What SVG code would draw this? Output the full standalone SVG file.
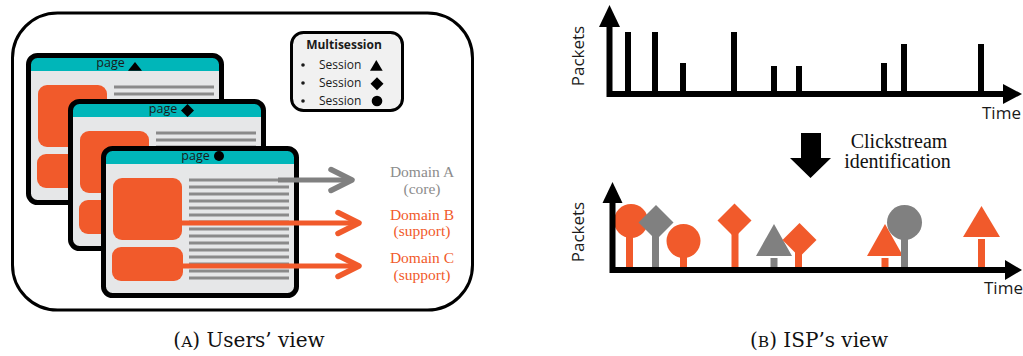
<svg xmlns="http://www.w3.org/2000/svg" xmlns:xlink="http://www.w3.org/1999/xlink" width="1023" height="356" viewBox="0 0 1023 356">
<style>
.sans{font-family:"Open Sans","Noto Sans","Liberation Sans",sans-serif;fill:#1a1a1a}
.serif{font-family:"Liberation Serif","DejaVu Serif",serif}
.or{fill:#F15A2B}
.gr{fill:#808080}
.ax{stroke:#000;stroke-width:6;fill:none}
.bar{fill:#000}
.ln{stroke:#8a8a8a;stroke-width:3}
.cap{font-family:"DejaVu Serif","Liberation Serif",serif;font-size:20px;fill:#111}
</style>
<defs>
<g id="pageBody">
<rect x="2.5" y="2.5" width="193" height="147" rx="9" fill="#E6E7E8"/>
<rect x="2.5" y="2.5" width="193" height="24" rx="9" fill="#00B6B9"/>
<rect x="2.5" y="18" width="193" height="10" fill="#E6E7E8"/>
<rect x="12" y="32" width="69" height="62" rx="9" class="or"/>
<rect x="11" y="101" width="71" height="34" rx="9" class="or"/>
<g class="ln">
<line x1="88" y1="34" x2="188" y2="34"/><line x1="88" y1="41" x2="188" y2="41"/><line x1="88" y1="48" x2="188" y2="48"/><line x1="88" y1="55" x2="188" y2="55"/><line x1="88" y1="62" x2="188" y2="62"/><line x1="88" y1="69" x2="188" y2="69"/><line x1="88" y1="76" x2="188" y2="76"/><line x1="88" y1="83" x2="188" y2="83"/><line x1="88" y1="90" x2="188" y2="90"/><line x1="88" y1="97" x2="188" y2="97"/><line x1="88" y1="104" x2="188" y2="104"/><line x1="88" y1="111" x2="188" y2="111"/><line x1="88" y1="118" x2="188" y2="118"/><line x1="88" y1="125" x2="188" y2="125"/><line x1="88" y1="132" x2="188" y2="132"/>
</g>
<rect x="2.5" y="2.5" width="193" height="147" rx="9" fill="none" stroke="#000" stroke-width="5"/>
</g>
<marker id="chevG" markerUnits="userSpaceOnUse" markerWidth="30" markerHeight="30" refX="25" refY="15" orient="auto">
<path d="M4,4.5 L25,15 L4,25.5" fill="none" stroke="#808080" stroke-width="5.5" stroke-linecap="round" stroke-linejoin="round"/>
</marker>
<marker id="chevO" markerUnits="userSpaceOnUse" markerWidth="30" markerHeight="30" refX="25" refY="15" orient="auto">
<path d="M4,4.5 L25,15 L4,25.5" fill="none" stroke="#F15A2B" stroke-width="5.5" stroke-linecap="round" stroke-linejoin="round"/>
</marker>
</defs>

<g id="panelA-frame">
<rect x="12.5" y="13" width="460" height="297" rx="45" fill="#fff" stroke="#000" stroke-width="3"/>
</g>

<g id="page1">
<use xlink:href="#pageBody" href="#pageBody" transform="translate(26,53)"/>
<text class="sans" x="110.5" y="66.5" font-size="12.5" text-anchor="middle">page</text>
<polygon points="128,70.7 135,62 142,70.7" fill="#000"/>
</g>
<g id="page2">
<use xlink:href="#pageBody" href="#pageBody" transform="translate(68,99)"/>
<text class="sans" x="163" y="113" font-size="12.5" text-anchor="middle">page</text>
<polygon points="181,110.5 187.5,104 194,110.5 187.5,117" fill="#000"/>
</g>
<g id="page3">
<use xlink:href="#pageBody" href="#pageBody" transform="translate(101,146)"/>
<text class="sans" x="195.5" y="160" font-size="12.5" text-anchor="middle">page</text>
<circle cx="219" cy="156" r="5" fill="#000"/>
</g>

<g id="multisession">
<rect x="291.5" y="32.5" width="111" height="78" rx="12" fill="#F1F1F1" stroke="#000" stroke-width="3"/>
<text class="sans" x="344" y="49" font-size="12" font-weight="bold" text-anchor="middle">Multisession</text>
<circle cx="303" cy="65" r="1.8" fill="#1a1a1a"/>
<circle cx="303" cy="83" r="1.8" fill="#1a1a1a"/>
<circle cx="303" cy="101" r="1.8" fill="#1a1a1a"/>
<text class="sans" x="319" y="68.5" font-size="12">Session</text>
<text class="sans" x="319" y="86.7" font-size="12">Session</text>
<text class="sans" x="319" y="105" font-size="12">Session</text>
<polygon points="370,70.7 376.3,60 382.7,70.7" fill="#000"/>
<polygon points="370.5,83.7 377,77.2 383.5,83.7 377,90.2" fill="#000"/>
<circle cx="377" cy="101" r="5.3" fill="#000"/>
</g>

<g id="connectors">
<line x1="278" y1="180" x2="352" y2="180" stroke="#808080" stroke-width="5" marker-end="url(#chevG)"/>
<line x1="182" y1="223" x2="359" y2="223" stroke="#F15A2B" stroke-width="5" marker-end="url(#chevO)"/>
<line x1="183" y1="266" x2="359" y2="266" stroke="#F15A2B" stroke-width="5" marker-end="url(#chevO)"/>
</g>

<g id="domainA">
<text class="serif" x="422" y="177" font-size="15.5" text-anchor="middle" fill="#8C8C8C">Domain A</text>
<text class="serif" x="422" y="193.5" font-size="15.5" text-anchor="middle" fill="#8C8C8C">(core)</text>
</g>
<g id="domainB">
<text class="serif" x="422" y="219.5" font-size="15.5" text-anchor="middle" fill="#F15A2B">Domain B</text>
<text class="serif" x="422" y="236" font-size="15.5" text-anchor="middle" fill="#F15A2B">(support)</text>
</g>
<g id="domainC">
<text class="serif" x="422" y="263" font-size="15.5" text-anchor="middle" fill="#F15A2B">Domain C</text>
<text class="serif" x="422" y="279.5" font-size="15.5" text-anchor="middle" fill="#F15A2B">(support)</text>
</g>

<g id="chartTop">
<rect class="bar" x="625" y="32" width="6" height="62"/>
<rect class="bar" x="652" y="32" width="6" height="62"/>
<rect class="bar" x="680" y="63" width="6" height="31"/>
<rect class="bar" x="731" y="32" width="6" height="62"/>
<rect class="bar" x="771" y="66" width="6" height="28"/>
<rect class="bar" x="796" y="66" width="6" height="28"/>
<rect class="bar" x="881" y="63" width="6" height="31"/>
<rect class="bar" x="901" y="44" width="6" height="50"/>
<rect class="bar" x="978" y="44" width="6" height="50"/>
<path class="ax" d="M609.5,25 V94 H1004"/>
<polygon points="599,27 609.5,5 620,27" fill="#000"/>
<polygon points="1003,84 1022,94 1003,104" fill="#000"/>
<text class="sans" font-size="17" text-anchor="middle" transform="translate(583.5,56) rotate(-90)">Packets</text>
<text class="sans" x="982" y="118.5" font-size="17">Time</text>
</g>

<g id="clickstream">
<polygon points="801,133 821,133 821,158 831,158 810.5,178 790,158 801,158" fill="#000"/>
<text class="serif" x="899" y="148" font-size="20" text-anchor="middle" fill="#111">Clickstream</text>
<text class="serif" x="897.5" y="168" font-size="20" text-anchor="middle" fill="#111">identification</text>
</g>

<g id="chartBottom">
<g id="m1"><rect class="or" x="626" y="221" width="7" height="49"/><circle class="or" cx="631" cy="221" r="17"/></g>
<g id="m2"><rect class="gr" x="652" y="222" width="7" height="48"/><polygon class="gr" points="638.5,222.5 656,205 673.5,222.5 656,240"/></g>
<g id="m3"><rect class="or" x="680" y="241" width="7" height="29"/><circle class="or" cx="683.5" cy="241" r="17"/></g>
<g id="m4"><rect class="or" x="731.5" y="220" width="7" height="50"/><polygon class="or" points="717.5,220.5 734.5,203.5 751.5,220.5 734.5,237.5"/></g>
<g id="m5"><rect class="gr" x="770.5" y="258" width="7" height="12"/><polygon class="gr" points="756,256 774,224 792,256"/></g>
<g id="m6"><rect class="or" x="795" y="240" width="7" height="30"/><polygon class="or" points="782.5,240 799.5,223 816.5,240 799.5,257"/></g>
<g id="m7"><rect class="or" x="881.5" y="258" width="7" height="12"/><polygon class="or" points="867,256 885,224 903,256"/></g>
<g id="m8"><rect class="gr" x="901" y="222" width="7" height="48"/><circle class="gr" cx="904.5" cy="222.5" r="17.5"/></g>
<g id="m9"><rect class="or" x="978" y="239" width="7" height="31"/><polygon class="or" points="963,237 981.5,206 1000,237"/></g>
<path class="ax" d="M612.5,201 V270 H1006"/>
<polygon points="602.5,203 612.5,182 622.5,203" fill="#000"/>
<polygon points="1005,260 1022,270 1005,280" fill="#000"/>
<text class="sans" font-size="17" text-anchor="middle" transform="translate(583.5,232) rotate(-90)">Packets</text>
<text class="sans" x="984" y="293.5" font-size="17">Time</text>
</g>

<g id="captions">
<text class="cap" x="249" y="347" text-anchor="middle">(<tspan font-size="15.5">A</tspan>) Users’ view</text>
<text class="cap" x="819" y="347" text-anchor="middle">(<tspan font-size="15.5">B</tspan>) ISP’s view</text>
</g>
</svg>
